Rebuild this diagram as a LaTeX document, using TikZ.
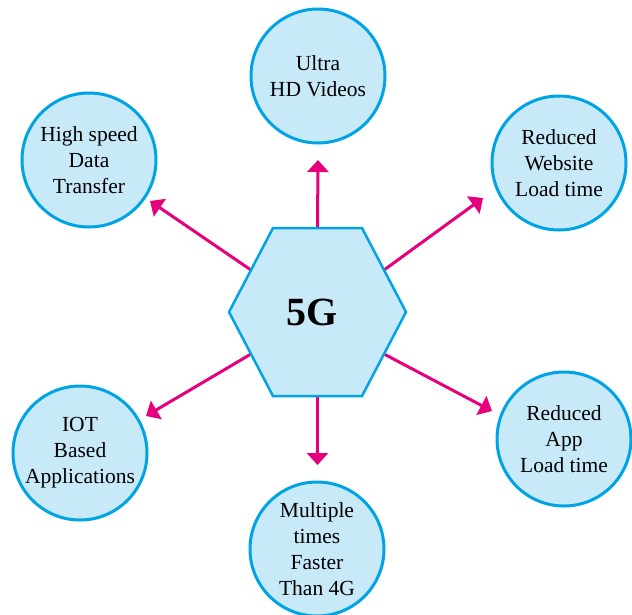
\documentclass[tikz,border=0pt]{standalone}
\usepackage{fontspec}
\setmainfont{Liberation Serif}
\usetikzlibrary{arrows.meta,calc}
\definecolor{lightblue}{RGB}{200,233,248}
\definecolor{cyanline}{RGB}{0,164,228}
\definecolor{magentaline}{RGB}{230,0,126}

\begin{document}
\begin{tikzpicture}[
        x=1pt, y=-1pt,
        bluen/.style={draw=cyanline, fill=lightblue, line width=3pt},
        topic/.style={bluen, circle, minimum size=134pt, inner sep=0pt, align=center, font=\fontsize{21.5}{26}\selectfont},
        arrowline/.style={draw=magentaline, line width=3pt, -{Triangle[width=21pt,length=12pt]}},
    ]
    \useasboundingbox (0,0) rectangle (632,614);
    % hexagon corners
    \coordinate (hl) at (229,312);
    \coordinate (htl) at (273,228);
    \coordinate (htr) at (362,228);
    \coordinate (hr) at (406,312);
    \coordinate (hbr) at (362,396);
    \coordinate (hbl) at (273,396);
    % arrow starts (edge middles)
    \coordinate (htop) at ($(htl)!.5!(htr)$);
    \coordinate (hbot) at ($(hbl)!.5!(hbr)$);
    \coordinate (hul) at ($(hl)!.5!(htl)$);
    \coordinate (hur) at ($(hr)!.5!(htr)$);
    \coordinate (hll) at ($(hl)!.5!(hbl)$);
    \coordinate (hlr) at ($(hr)!.5!(hbr)$);
    % arrow tips
    \coordinate (tipu) at (318,160);
    \coordinate (tipd) at (317.5,465);
    \coordinate (tipul) at (150,201);
    \coordinate (tipur) at (483,198);
    \coordinate (tipll) at (146,416);
    \coordinate (tiplr) at (492,411);

    \draw[arrowline] (htop) -- (tipu);
    \draw[arrowline] (hbot) -- (tipd);
    \draw[arrowline] (hul) -- (tipul);
    \draw[arrowline] (hur) -- (tipur);
    \draw[arrowline] (hll) -- (tipll);
    \draw[arrowline] (hlr) -- (tiplr);

    \draw[bluen, line width=2.5pt] (hl) -- (htl) -- (htr) -- (hr) -- (hbr) -- (hbl) -- cycle;
    \node[font=\fontsize{40}{44}\selectfont\bfseries] (fiveg) at (312,312) {5G};

    \node[topic] (ultra) at (318,76) {Ultra\\HD Videos};
    \node[topic] (highspeed) at (89,160) {High speed\\Data\\Transfer};
    \node[topic] (website) at (559,163) {Reduced\\Website\\Load time};
    \node[topic] (iot) at (80,453) {IOT\\Based\\Applications};
    \node[topic] (app) at (564,439) {Reduced\\App\\Load time};
    \node[topic] (faster) at (317,549) {Multiple\\times\\Faster\\Than 4G};
\end{tikzpicture}
\end{document}
